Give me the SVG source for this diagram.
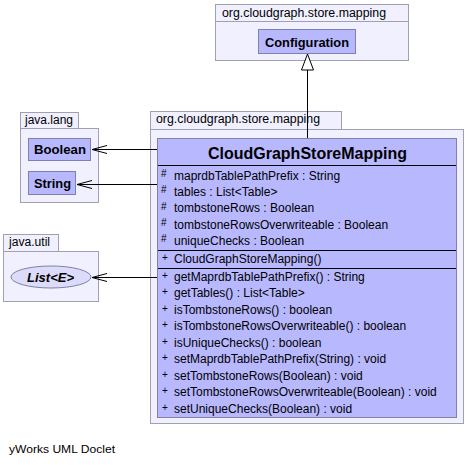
<svg xmlns="http://www.w3.org/2000/svg" width="468" height="465" viewBox="0 0 468 465">
<style>
text{font-family:"Liberation Sans",Arial,sans-serif;fill:#000}
.pkg{fill:#f0f0ff;stroke:#a0a0b0;stroke-width:1}
.cls{fill:#b8b8ff;stroke:#8080a8;stroke-width:1}
.sep{stroke:#000;stroke-width:1}
.plab{font-size:12px}
.bold{font-size:13px;font-weight:bold}
.mem{font-size:12px}
.vis{font-size:10px}
.edge{fill:none;stroke:#000;stroke-width:1}
</style>
<rect width="468" height="465" fill="#fff"/>
<g id="pkg-top">
<rect class="pkg" x="215.5" y="4.5" width="193" height="17"/>
<rect class="pkg" x="215.5" y="21.5" width="193" height="39"/>
<text class="plab" x="222" y="16.5" textLength="164" lengthAdjust="spacingAndGlyphs">org.cloudgraph.store.mapping</text>
</g>
<g id="Configuration">
<rect class="cls" x="258.5" y="29.5" width="97" height="24"/>
<text class="bold" x="265" y="46.5" textLength="84" lengthAdjust="spacingAndGlyphs">Configuration</text>
</g>
<g id="pkg-lang">
<rect class="pkg" x="20.5" y="112.5" width="58" height="16"/>
<rect class="pkg" x="20.5" y="128.5" width="78" height="74"/>
<text class="plab" x="25" y="124" textLength="48" lengthAdjust="spacingAndGlyphs">java.lang</text>
</g>
<g id="Boolean">
<rect class="cls" x="28.5" y="138.5" width="62" height="22"/>
<text class="bold" x="34" y="154" textLength="52" lengthAdjust="spacingAndGlyphs">Boolean</text>
</g>
<g id="String">
<rect class="cls" x="28.5" y="171.5" width="47" height="23"/>
<text class="bold" x="34" y="188" textLength="37" lengthAdjust="spacingAndGlyphs">String</text>
</g>
<g id="pkg-util">
<rect class="pkg" x="3.5" y="234.5" width="55" height="17"/>
<rect class="pkg" x="3.5" y="251.5" width="95" height="50"/>
<text class="plab" x="9" y="246" textLength="41" lengthAdjust="spacingAndGlyphs">java.util</text>
</g>
<g id="List">
<ellipse cx="51" cy="277" rx="40" ry="11" fill="#dcdcfa" stroke="#8080a8"/>
<text class="bold" x="27" y="282" font-style="italic" textLength="47" lengthAdjust="spacingAndGlyphs">List&lt;E&gt;</text>
</g>
<g id="pkg-mapping">
<rect class="pkg" x="150.5" y="111.5" width="191" height="18"/>
<rect class="pkg" x="150.5" y="129.5" width="313" height="294"/>
<text class="plab" x="156" y="123.3" textLength="164" lengthAdjust="spacingAndGlyphs">org.cloudgraph.store.mapping</text>
</g>
<g id="CloudGraphStoreMapping">
<rect class="cls" x="157.5" y="138.5" width="299" height="279"/>
<text x="208" y="159" font-size="17" font-weight="bold" textLength="199" lengthAdjust="spacingAndGlyphs">CloudGraphStoreMapping</text>
<line class="sep" x1="158" y1="165.5" x2="456" y2="165.5"/>
<line class="sep" x1="158" y1="250.5" x2="456" y2="250.5"/>
<line class="sep" x1="158" y1="268.5" x2="456" y2="268.5"/>
<g class="vis">
<text x="161" y="177">#</text><text x="161" y="193.3">#</text><text x="161" y="209.6">#</text><text x="161" y="225.9">#</text><text x="161" y="242.2">#</text>
<text x="162" y="261">+</text>
<text x="162" y="278.5">+</text><text x="162" y="295">+</text><text x="162" y="311.5">+</text><text x="162" y="328">+</text><text x="162" y="344.5">+</text><text x="162" y="361">+</text><text x="162" y="377.5">+</text><text x="162" y="394">+</text><text x="162" y="410.5">+</text>
</g>
<g class="mem">
<text x="174" y="179.8">maprdbTablePathPrefix : String</text>
<text x="174" y="196.1">tables : List&lt;Table&gt;</text>
<text x="174" y="212.4">tombstoneRows : Boolean</text>
<text x="174" y="228.7">tombstoneRowsOverwriteable : Boolean</text>
<text x="174" y="245">uniqueChecks : Boolean</text>
<text x="174" y="263">CloudGraphStoreMapping()</text>
<text x="174" y="280.5">getMaprdbTablePathPrefix() : String</text>
<text x="174" y="297">getTables() : List&lt;Table&gt;</text>
<text x="174" y="313.5">isTombstoneRows() : boolean</text>
<text x="174" y="330">isTombstoneRowsOverwriteable() : boolean</text>
<text x="174" y="346.5">isUniqueChecks() : boolean</text>
<text x="174" y="363">setMaprdbTablePathPrefix(String) : void</text>
<text x="174" y="379.5">setTombstoneRows(Boolean) : void</text>
<text x="174" y="396">setTombstoneRowsOverwriteable(Boolean) : void</text>
<text x="174" y="412.5">setUniqueChecks(Boolean) : void</text>
</g>
</g>
<g id="connectors">
<line class="edge" x1="307.5" y1="70" x2="307.5" y2="138"/>
<polygon points="307.5,54 301.5,70 313.5,70" fill="#fff" stroke="#000"/>
<line class="edge" x1="157" y1="149.5" x2="92" y2="149.5"/>
<polyline class="edge" points="107,145.5 92,149.5 107,153.5"/>
<line class="edge" x1="157" y1="184.5" x2="77" y2="184.5"/>
<polyline class="edge" points="92,180.5 77,184.5 92,188.5"/>
<line class="edge" x1="157" y1="277.5" x2="92" y2="277.5"/>
<polyline class="edge" points="107,273.5 92,277.5 107,281.5"/>
</g>
<text x="9" y="453" font-size="11" textLength="106" lengthAdjust="spacingAndGlyphs">yWorks UML Doclet</text>
</svg>
